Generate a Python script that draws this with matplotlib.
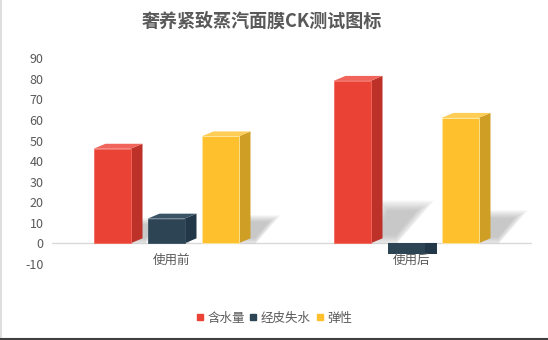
import matplotlib
matplotlib.use("Agg")
import matplotlib.pyplot as plt
from matplotlib.patches import Polygon, Rectangle
from matplotlib.lines import Line2D
import numpy as np

plt.rcParams['font.family'] = ['Noto Sans CJK SC', 'DejaVu Sans']

# ---- data ----
title = "奢养紧致蒸汽面膜CK测试图标"
categories = ["使用前", "使用后"]
series_names = ["含水量", "经皮失水", "弹性"]
water = [46, 79]
tewl = [12, -5]
elasticity = [52, 61]
series_values = [water, tewl, elasticity]
yticks = list(range(-10, 100, 10))

# ---- style ----
front_cols = ["#EB4236", "#2D4454", "#FEC02D"]
side_cols = ["#BD3129", "#223748", "#CF9E24"]
top_cols = ["#F0645B", "#3B5465", "#FECD55"]
edge_cols = ["#F26A60", "#3A5263", "#FFE7A0"]
text_col = "#595959"

W, H = 548, 340
fig = plt.figure(figsize=(W / 100, H / 100), dpi=100)
ax_l, ax_r, ax_t, ax_b = 52, 532, 58.3, 263.9
ax = fig.add_axes([ax_l / W, (H - ax_b) / H, (ax_r - ax_l) / W, (ax_b - ax_t) / H])
ax.set_xlim(0, len(categories))
ax.set_ylim(-10, 90)
for s in ax.spines.values():
    s.set_visible(False)
ax.set_xticks([])
ax.set_yticks(yticks)
ax.set_yticklabels([str(t) for t in yticks], color=text_col, fontsize=9)
ax.tick_params(axis='y', length=0, pad=6)

px_x = (ax_r - ax_l) / len(categories)   # px per x unit
px_y = (ax_b - ax_t) / 100.0             # px per y unit

ax.axhline(0, color="#D9D9D9", lw=1.0, zorder=1)

front_w = 37 / px_x
dxd = 12 / px_x
dyd = 5 / px_y
spacing = 54 / px_x
full_w = front_w + dxd


def shadow(xr, v, z):
    hpx = v * px_y
    sh_h = 0.25 * hpx / px_y
    shear = 0.37 * hpx / px_x
    base_w = 0.16 * hpx / px_x
    pts = np.array([[xr - 2 / px_x, 0], [xr + base_w, 0],
                    [xr + shear, sh_h], [xr + 0.2 * shear, sh_h]])
    c = pts.mean(axis=0)
    n = 14
    for k in range(n):
        s = 1.12 - 0.04 * k
        p = c + (pts - c) * s
        p[:, 1] = np.maximum(p[:, 1], 0)
        ax.add_patch(Polygon(p, closed=True, facecolor="#8a8a8a", edgecolor="none",
                             alpha=0.04, zorder=z))


z = 2
for ci in range(len(categories)):
    center = ci + 0.5
    for si, vals in enumerate(series_values):
        v = vals[ci]
        xl = center + (si - 1) * spacing - full_w / 2
        xr = xl + front_w
        if v > 0:
            shadow(xr, v, z)
            z += 1
            ax.add_patch(Polygon([[xr, 0], [xr + dxd, dyd], [xr + dxd, v + dyd], [xr, v]],
                                 closed=True, facecolor=side_cols[si], edgecolor="none", zorder=z))
            ax.add_patch(Polygon([[xl, v], [xr, v], [xr + dxd, v + dyd], [xl + dxd, v + dyd]],
                                 closed=True, facecolor=top_cols[si], edgecolor="none", zorder=z))
            ax.add_patch(Rectangle((xl, 0), front_w, v, facecolor=front_cols[si],
                                   edgecolor=edge_cols[si], lw=0.6, zorder=z + 0.5))
        else:
            ax.add_patch(Rectangle((xr, v), dxd, -v, facecolor=side_cols[si],
                                   edgecolor="none", zorder=z))
            ax.add_patch(Rectangle((xl, v), front_w, -v, facecolor=front_cols[si],
                                   edgecolor="none", zorder=z + 0.5))
        z += 1

for ci, cat in enumerate(categories):
    ax.text(ci + 0.5, -8.1, cat, ha="center", va="center", color=text_col,
            fontsize=9, zorder=100)

fig.text(261.7 / W, 1 - 21 / H, title, ha="center", va="center", fontsize=13,
         fontweight="bold", color=text_col)

handles = [Line2D([], [], marker="s", linestyle="none", markersize=5,
                  markerfacecolor=front_cols[i], markeredgecolor=front_cols[i])
           for i in range(len(series_names))]
fig.legend(handles, series_names, loc="center", bbox_to_anchor=(274 / W, 1 - 318 / H),
           ncol=3, frameon=False, fontsize=9, handlelength=0.6, handletextpad=0.3,
           columnspacing=0.4, labelcolor=text_col)

fig.add_artist(Line2D([0.5 / W, 0.5 / W], [0, 1], color="#D9D9D9", lw=1.2,
                      transform=fig.transFigure))
fig.add_artist(Line2D([0, 1], [1.3 / H, 1.3 / H], color="#404040", lw=1.5,
                      transform=fig.transFigure))

fig.savefig("out.png", dpi=100)
